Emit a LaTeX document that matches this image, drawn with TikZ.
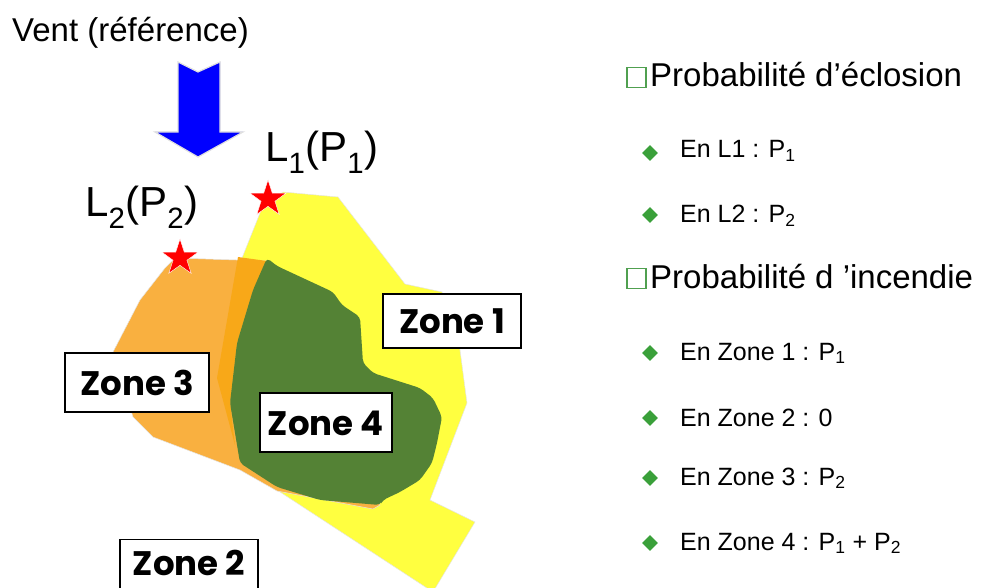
\documentclass[tikz,border=0pt]{standalone}
\usepackage{fontspec}
\setmainfont{Liberation Sans}
\newfontfamily\zonefont{Poppins}
\usetikzlibrary{shapes.geometric}
\definecolor{zyellow}{RGB}{255,255,64}
\definecolor{zorange}{RGB}{249,176,64}
\definecolor{zband}{RGB}{248,168,24}
\definecolor{zgreen}{RGB}{84,130,53}
\definecolor{bgreen}{RGB}{58,160,58}
\definecolor{sqgreen}{RGB}{80,160,80}
\begin{document}
\begin{tikzpicture}[x=1pt,y=-1pt,
  txt/.style={inner sep=0pt, anchor=base west},
  zonebox/.style={draw=black, line width=1.4pt, fill=white, inner sep=0pt,
    text height=25pt, text depth=0pt,
    font=\zonefont\bfseries\fontsize{34}{34}\selectfont},
  bul/.style={diamond, fill=bgreen, inner sep=0pt, minimum size=16pt},
  fstar/.style={star, star points=5, star point ratio=2.6, fill=red,
    draw=white, line width=0.4pt, inner sep=0pt, minimum size=38pt},
  area/.style={draw=white!80!gray, line width=0.5pt},
  sqbox/.style={draw=sqgreen, line width=1.1pt, minimum width=19pt, minimum height=20pt, inner sep=0pt}]
\useasboundingbox (0,0) rectangle (983,588);

% areas
\path[area, fill=zyellow] (262,208) -- (283,192) -- (338,197) -- (405,284)
  -- (442,292) -- (460,350) -- (467,403) -- (430,500) -- (475,522)
  -- (433,592) -- (277,490) -- (240,463) -- (217,378) -- (242,258) -- cycle;
\path[area, fill=zorange] (165,268) -- (175,258) -- (267,261) -- (277,267)
  -- (380,505) -- (373,509) -- (277,491) -- (240,470) -- (153,437)
  -- (133,417) -- (113,352) -- (140,300) -- cycle;
\path[fill=zband] (238,257) -- (267,261) -- (253,290) -- (237,343)
  -- (230,403) -- (235,445) -- (217,378) -- cycle;
\path[fill=zgreen, rounded corners=4pt] (267,258) -- (277,266) -- (333,292)
  -- (342,305) -- (360,317) -- (363,363) -- (373,373) -- (420,388)
  -- (433,398) -- (442,417) -- (437,443) -- (432,463) -- (420,480)
  -- (400,492) -- (383,500) -- (380,505) -- (320,500) -- (277,487)
  -- (240,463) -- (230,403) -- (237,343) -- (253,290) -- cycle;

% wind arrow
\path[fill=blue, draw=gray!25, line width=1.2pt, line join=miter]
  (178,62) -- (198,72) -- (220,62) -- (220,132) -- (243,132) -- (198,157)
  -- (155,132) -- (178,132) -- cycle;

% texts left
\node[txt, font=\fontsize{33}{33}\selectfont] (vent) at (12,42) {Vent (référence)};
\node[txt, font=\fontsize{42}{42}\selectfont] (l1) at (265,162) {L\textsubscript{1}(P\textsubscript{1})};
\node[txt, font=\fontsize{42}{42}\selectfont] (l2) at (85,217) {L\textsubscript{2}(P\textsubscript{2})};

% stars
\node[fstar] (s1) at (268,199) {};
\node[fstar] (s2) at (180,258) {};

% zone boxes
\node[zonebox, minimum width=138pt, minimum height=54pt] (z1) at (452,321) {Zone 1};
\node[zonebox, minimum width=144pt, minimum height=59pt] (z3) at (137,382.5) {Zone 3};
\node[zonebox, minimum width=132pt, minimum height=59pt] (z4) at (326,422.5) {Zone 4};
\node[zonebox, minimum width=138pt, minimum height=62pt, anchor=north, text depth=16pt] (z2) at (189,539) {Zone 2};

% right list
\node[sqbox] (sq1) at (636.5,77.5) {};
\node[txt, font=\fontsize{33}{33}\selectfont] (h1) at (650,87) {Probabilité d’éclosion};
\node[sqbox] (sq2) at (636.5,278.5) {};
\node[txt, font=\fontsize{33}{33}\selectfont] (h2) at (650,288) {Probabilité d ’incendie};

\node[bul] (b1) at (650,153) {};
\node[bul] (b2) at (650,215) {};
\node[bul] (b3) at (650,353) {};
\node[bul] (b4) at (650,418) {};
\node[bul] (b5) at (650,478) {};
\node[bul] (b6) at (650,543) {};
\begin{scope}[every node/.style={txt, font=\fontsize{25}{25}\selectfont}]
\node (t1) at (680,158) {En L1 : P\textsubscript{1}};
\node (t2) at (680,223) {En L2 : P\textsubscript{2}};
\node (t3) at (680,360) {En Zone 1 : P\textsubscript{1}};
\node (t4) at (680,426) {En Zone 2 : 0};
\node (t5) at (680,485) {En Zone 3 : P\textsubscript{2}};
\node (t6) at (680,550) {En Zone 4 : P\textsubscript{1} + P\textsubscript{2}};
\end{scope}
\end{tikzpicture}
\end{document}
